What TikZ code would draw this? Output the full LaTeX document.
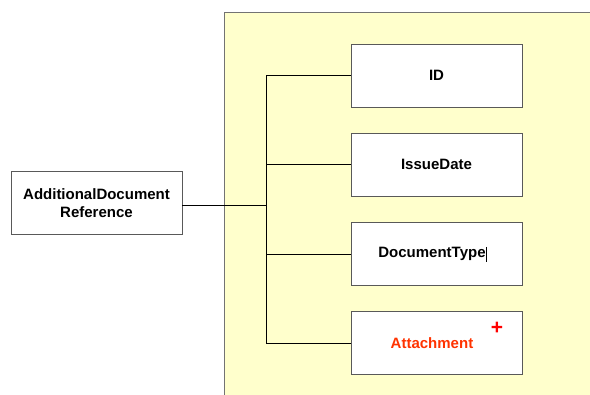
\documentclass[tikz,border=0pt]{standalone}
\usepackage{fontspec}
\setmainfont{Liberation Sans}
\begin{document}
\begin{tikzpicture}[x=1pt,y=-1pt,
  elem/.style={draw=black!65,line width=0.9pt,fill=white,minimum width=171pt,minimum height=63pt,inner sep=0pt,
    font=\fontsize{15}{17.5}\selectfont\bfseries,align=center},
  conn/.style={draw=black,line width=0.8pt}]
\clip (0,0) rectangle (590,395);
\fill[white] (0,0) rectangle (590,395);
\draw[fill={rgb,255:red,255;green,255;blue,204},draw=black!55,line width=0.9pt] (224,12) rectangle (600,410);
\node[elem] (adr) at (96.5,203) {AdditionalDocument\\Reference};
\node[elem] (id) at (436.5,75.5) {ID};
\node[elem] (issue) at (436.5,164.5) {IssueDate};
\node[elem] (dtype) at (436.5,254) {\hspace*{-9pt}DocumentType};
\node[elem,text={rgb,255:red,255;green,51;blue,0}] (att) at (436.5,343) {\hspace*{-9pt}Attachment};
\node[text={rgb,255:red,255;green,0;blue,0},font=\fontsize{21}{21}\selectfont\bfseries,inner sep=0pt] (plus) at (497,328) {+};
\coordinate (bus) at (266,205);
\coordinate (top) at (266,75.5);
\coordinate (bot) at (266,343);
\coordinate (cur1) at (486.5,247);
\coordinate (cur2) at (486.5,262);
\draw[conn] (adr.east |- bus) -- (bus);
\draw[conn] (top) -- (bot);
\draw[conn] (top) -- (id.west);
\draw[conn] (issue.west -| bus) -- (issue.west);
\draw[conn] (dtype.west -| bus) -- (dtype.west);
\draw[conn] (bot) -- (att.west);
\draw[line width=0.6pt] (cur1) -- (cur2);
\end{tikzpicture}
\end{document}
